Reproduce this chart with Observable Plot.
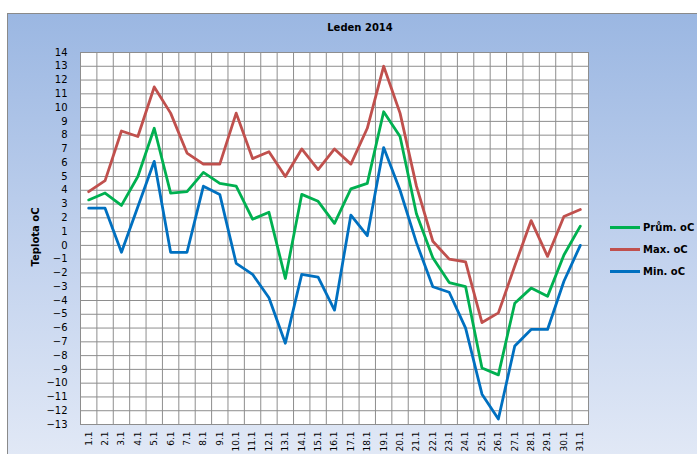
<!DOCTYPE html>
<html>
<head>
<meta charset="utf-8">
<script src="https://cdn.jsdelivr.net/npm/d3@7"></script>
<script src="https://cdn.jsdelivr.net/npm/@observablehq/plot@0.6"></script>
<style>
  html, body { margin:0; padding:0; background:#fff; }
  #wrap { position:relative; width:697px; height:454px; overflow:hidden; background:#fff; font-family:"DejaVu Sans", sans-serif; }
  #panel { position:absolute; left:7px; top:13px; width:700px; height:450px; border:1px solid #8a8a8a; box-sizing:border-box;
           background:linear-gradient(to bottom, #9bb7e2 0%, #c3d3ee 55%, #e2e9f6 100%); }
  #chart { position:absolute; left:0; top:0; }
  #title { position:absolute; left:0; width:720px; top:22px; text-align:center; font-weight:bold; font-size:10px; }
  #ylab { position:absolute; left:35px; top:237px; transform:translate(-50%,-50%) rotate(-90deg); font-weight:bold; font-size:10px; white-space:nowrap; }
  .leg { position:absolute; left:610px; font-weight:bold; font-size:10px; display:flex; align-items:center; }
  .leg span.sw { display:inline-block; width:30px; height:3px; margin-right:3px; }
</style>
</head>
<body>
<div id="wrap">
  <div id="panel"></div>
  <div id="chart"></div>
  <div id="title">Leden 2014</div>
  <div id="ylab">Teplota oC</div>
  <div id="legend"></div>
</div>
<script>
const days = ["1.1","2.1","3.1","4.1","5.1","6.1","7.1","8.1","9.1","10.1","11.1","12.1","13.1","14.1","15.1","16.1","17.1","18.1","19.1","20.1","21.1","22.1","23.1","24.1","25.1","26.1","27.1","28.1","29.1","30.1","31.1"];
const prumer = [3.3,3.8,2.9,5.0,8.5,3.8,3.9,5.3,4.5,4.3,1.9,2.4,-2.4,3.7,3.2,1.6,4.1,4.5,9.7,7.9,2.3,-0.9,-2.7,-3.0,-8.9,-9.4,-4.2,-3.1,-3.7,-0.7,1.4];
const maximum = [3.9,4.7,8.3,7.9,11.5,9.6,6.7,5.9,5.9,9.6,6.3,6.8,5.0,7.0,5.5,7.0,5.9,8.5,13.0,9.6,4.3,0.3,-1.0,-1.2,-5.6,-4.9,-1.5,1.8,-0.8,2.1,2.6];
const minimum = [2.7,2.7,-0.5,2.8,6.1,-0.5,-0.5,4.3,3.7,-1.3,-2.1,-3.8,-7.1,-2.1,-2.3,-4.7,2.2,0.7,7.1,4.0,0.2,-3.0,-3.4,-6.0,-10.8,-12.6,-7.3,-6.1,-6.1,-2.6,0.0];
const seriesNames = ["Prům. oC","Max. oC","Min. oC"];
const seriesColors = ["#00b050","#c0504d","#0070c0"];
const yTicks = d3.range(-13, 15);

const seriesValues = [prumer, maximum, minimum];
const toRows = vals => vals.map((v, i) => ({day: i + 1, value: v}));
const grid = "#8e8e8e";

const chart = Plot.plot({
  width: 697,
  height: 454,
  marginLeft: 80,
  marginRight: 109,
  marginTop: 52,
  marginBottom: 30,
  style: {background: "transparent", fontFamily: "DejaVu Sans, sans-serif", fontSize: "10px", color: "#000", overflow: "visible"},
  x: {type: "linear", domain: [0.5, days.length + 0.5]},
  y: {domain: [yTicks[0], yTicks[yTicks.length - 1]]},
  marks: [
    Plot.frame({fill: "white", stroke: "none"}),
    Plot.ruleY(yTicks, {stroke: grid, strokeWidth: 1}),
    Plot.ruleX(d3.range(0.5, days.length + 1, 1), {stroke: grid, strokeWidth: 1}),
    Plot.frame({stroke: grid}),
    Plot.axisY(yTicks, {tickSize: 0, tickPadding: 13, label: null, fill: "#000"}),
    Plot.axisX(d3.range(1, days.length + 1), {tickFormat: i => days[i - 1], tickRotate: -90, tickSize: 0, tickPadding: 7, label: null, fontSize: 9, fill: "#000"}),
    ...seriesValues.map((vals, k) => Plot.line(toRows(vals), {x: "day", y: "value", stroke: seriesColors[k], strokeWidth: 2.8, strokeLinejoin: "round"}))
  ]
});
document.getElementById("chart").appendChild(chart);

const legend = document.getElementById("legend");
const legTops = [227, 249, 271];
seriesNames.forEach((n, k) => {
  const d = document.createElement("div");
  d.className = "leg";
  d.style.top = (legTops[k] - 7) + "px";
  d.style.height = "14px";
  d.innerHTML = `<span class="sw" style="background:${seriesColors[k]}"></span><span>${n}</span>`;
  legend.appendChild(d);
});
</script>
</body>
</html>
